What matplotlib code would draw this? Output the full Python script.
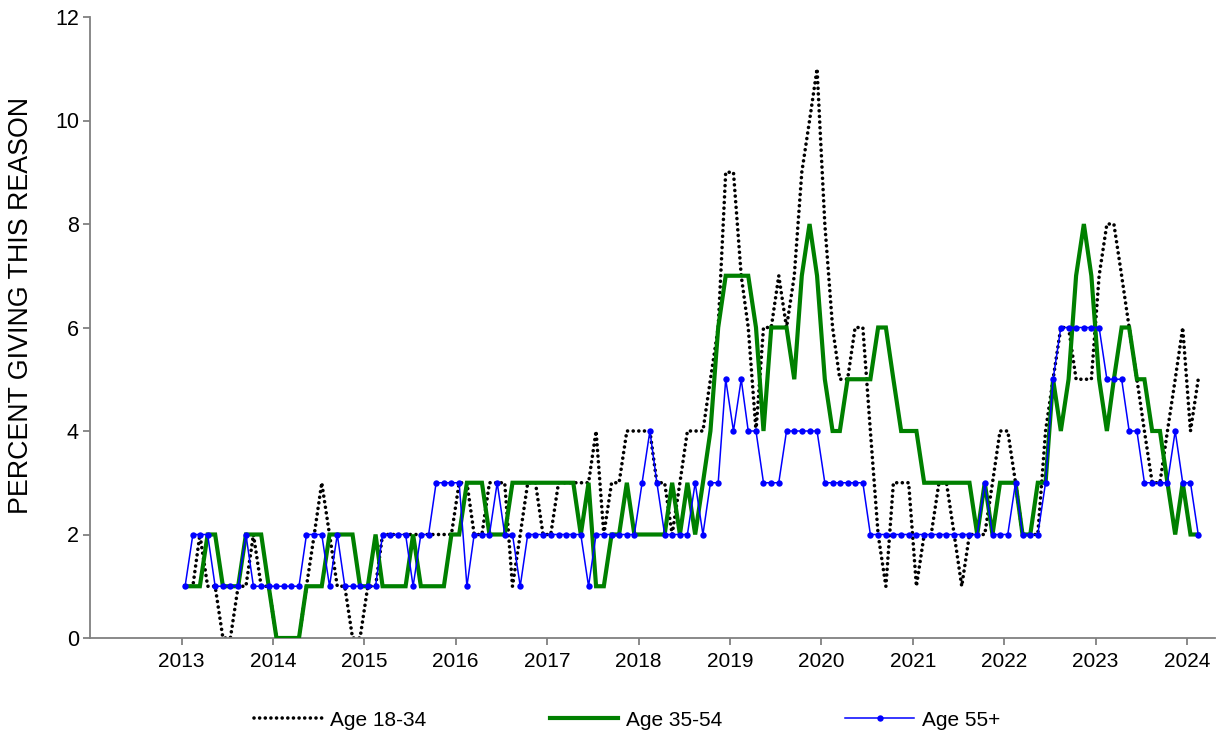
import matplotlib
matplotlib.use("Agg")
import matplotlib.pyplot as plt
import pandas as pd

# Monthly values, Jan 2013 .. Feb 2024
age_18_34 = [
    1, 1, 2, 1, 1, 0, 0, 1, 1, 2, 1, 1,      # 2013
    0, 0, 0, 0, 1, 2, 3, 2, 1, 1, 0, 0,      # 2014
    1, 1, 2, 2, 2, 2, 2, 2, 2, 2, 2, 2,      # 2015
    3, 3, 2, 2, 3, 3, 3, 1, 2, 3, 3, 2,      # 2016
    2, 3, 3, 3, 3, 3, 4, 2, 3, 3, 4, 4,      # 2017
    4, 4, 3, 3, 2, 3, 4, 4, 4, 5, 6, 9,      # 2018
    9, 7, 6, 4, 6, 6, 7, 6, 7, 9, 10, 11,    # 2019
    8, 6, 5, 5, 6, 6, 4, 2, 1, 3, 3, 3,      # 2020
    1, 2, 2, 3, 3, 2, 1, 2, 2, 2, 3, 4,      # 2021
    4, 3, 2, 2, 2, 4, 5, 6, 6, 5, 5, 5,      # 2022
    7, 8, 8, 7, 6, 5, 4, 3, 3, 4, 5, 6,      # 2023
    4, 5,                                    # 2024
]
age_35_54 = [
    1, 1, 1, 2, 2, 1, 1, 1, 2, 2, 2, 1,      # 2013
    0, 0, 0, 0, 1, 1, 1, 2, 2, 2, 2, 1,      # 2014
    1, 2, 1, 1, 1, 1, 2, 1, 1, 1, 1, 2,      # 2015
    2, 3, 3, 3, 2, 2, 2, 3, 3, 3, 3, 3,      # 2016
    3, 3, 3, 3, 2, 3, 1, 1, 2, 2, 3, 2,      # 2017
    2, 2, 2, 2, 3, 2, 3, 2, 3, 4, 6, 7,      # 2018
    7, 7, 7, 6, 4, 6, 6, 6, 5, 7, 8, 7,      # 2019
    5, 4, 4, 5, 5, 5, 5, 6, 6, 5, 4, 4,      # 2020
    4, 3, 3, 3, 3, 3, 3, 3, 2, 3, 2, 3,      # 2021
    3, 3, 2, 2, 3, 3, 5, 4, 5, 7, 8, 7,      # 2022
    5, 4, 5, 6, 6, 5, 5, 4, 4, 3, 2, 3,      # 2023
    2, 2,                                    # 2024
]
age_55_plus = [
    1, 2, 2, 2, 1, 1, 1, 1, 2, 1, 1, 1,      # 2013
    1, 1, 1, 1, 2, 2, 2, 1, 2, 1, 1, 1,      # 2014
    1, 1, 2, 2, 2, 2, 1, 2, 2, 3, 3, 3,      # 2015
    3, 1, 2, 2, 2, 3, 2, 2, 1, 2, 2, 2,      # 2016
    2, 2, 2, 2, 2, 1, 2, 2, 2, 2, 2, 2,      # 2017
    3, 4, 3, 2, 2, 2, 2, 3, 2, 3, 3, 5,      # 2018
    4, 5, 4, 4, 3, 3, 3, 4, 4, 4, 4, 4,      # 2019
    3, 3, 3, 3, 3, 3, 2, 2, 2, 2, 2, 2,      # 2020
    2, 2, 2, 2, 2, 2, 2, 2, 2, 3, 2, 2,      # 2021
    2, 3, 2, 2, 2, 3, 5, 6, 6, 6, 6, 6,      # 2022
    6, 5, 5, 5, 4, 4, 3, 3, 3, 3, 4, 3,      # 2023
    3, 2,                                    # 2024
]
series_labels = ["Age 18-34", "Age 35-54", "Age 55+"]
year_ticks = list(range(2013, 2025))
y_ticks = [0, 2, 4, 6, 8, 10, 12]
y_label = "PERCENT GIVING THIS REASON"

n = len(age_55_plus)
dates = pd.date_range("2013-01-01", periods=n, freq="MS") + pd.Timedelta(days=14)

plt.rcParams["font.family"] = ["Liberation Sans", "DejaVu Sans"]

fig = plt.figure(figsize=(12.24, 7.44), dpi=100)
ax = fig.add_axes([90 / 1224, 1 - 638 / 744, (1215 - 90) / 1224, (638 - 17) / 744])

ax.plot(dates, age_18_34, color="black", lw=2.6, linestyle=(0, (0.01, 1.55)),
        dash_capstyle="round", label=series_labels[0], zorder=2)
ax.plot(dates, age_35_54, color="#008000", lw=3.0, solid_joinstyle="miter",
        label=series_labels[1], zorder=3)
ax.plot(dates, age_55_plus, color="#0000FF", lw=1.1, marker="o", markersize=4.6,
        markeredgewidth=0, label=series_labels[2], zorder=4)

ax.set_xlim(pd.Timestamp("2012-01-01"), pd.Timestamp("2024-04-22"))
ax.set_ylim(0, 12)
ax.set_yticks(y_ticks)
ax.set_yticklabels([str(v) for v in y_ticks])
ax.set_xticks([pd.Timestamp(f"{y}-01-01") for y in year_ticks])
ax.set_xticklabels([str(y) for y in year_ticks])

for s in ["top", "right"]:
    ax.spines[s].set_visible(False)
for s in ["left", "bottom"]:
    ax.spines[s].set_color("#808080")
    ax.spines[s].set_linewidth(1.3)
ax.tick_params(axis="both", colors="#808080", length=5, width=1.3, direction="out",
               labelcolor="black", labelsize=15)
ax.tick_params(axis="x", pad=5)
ax.tick_params(axis="y", pad=3, labelsize=15.5)

ax.set_ylabel(y_label, fontsize=19.3)
ax.yaxis.set_label_coords(-0.050, 0.535)

fig.legend(loc="center", bbox_to_anchor=(627 / 1224, 1 - 720 / 744), ncol=3,
           frameon=False, fontsize=15, handlelength=3.3, handletextpad=0.38,
           columnspacing=5.9, numpoints=1)

fig.savefig("out.png", dpi=100)
